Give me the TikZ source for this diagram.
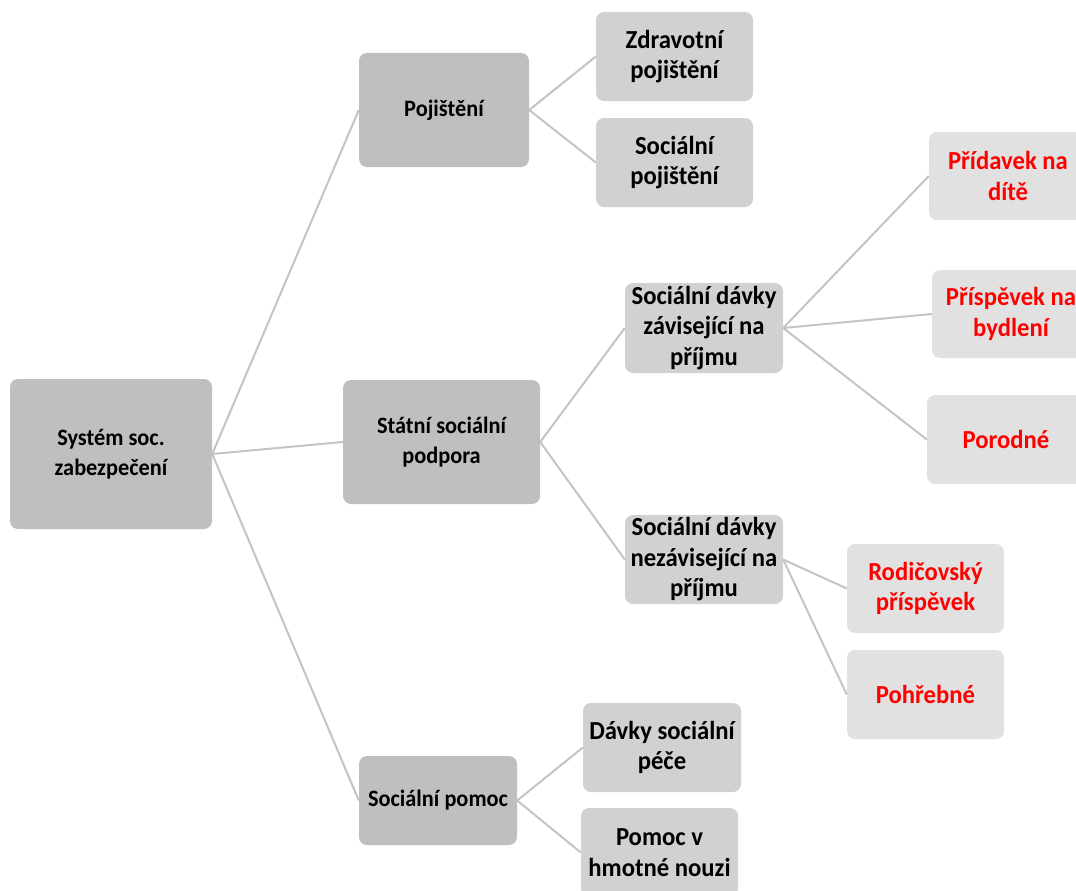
\documentclass[tikz,border=0pt]{standalone}
\usepackage{fontspec}
\setmainfont[FakeStretch=0.95]{Carlito}
\usetikzlibrary{positioning}

\definecolor{boxdark}{RGB}{191,191,191}
\definecolor{boxmid}{RGB}{209,209,209}
\definecolor{boxlight}{RGB}{225,225,225}
\definecolor{linkgray}{RGB}{196,196,196}

\tikzset{
  box/.style={rounded corners=8pt, inner sep=0pt, align=center,
    font=\bfseries\fontsize{26}{30.5}\selectfont},
  rootbox/.style={box, fill=boxdark, font=\bfseries\fontsize{23.5}{29.5}\selectfont},
  midbox/.style={box, fill=boxmid},
  leafbox/.style={box, fill=boxlight, text=red},
  link/.style={draw=linkgray, line width=2pt},
}

\begin{document}
\begin{tikzpicture}[x=1pt, y=-1pt]
        \useasboundingbox (0,0) rectangle (1076,891);
        \clip (0,0) rectangle (1076,891);

        % root and first level
        \node [rootbox, minimum width=202, minimum height=150] (sys) at (111,454) {Systém soc.\\zabezpečení};
        \node [rootbox, minimum width=170, minimum height=114] (poj) at (444,110) {Pojištění};
        \node [rootbox, minimum width=197, minimum height=124] (ssp) at (441.5,442) {Státní sociální\\podpora};
        \node [rootbox, minimum width=158, minimum height=89] (pomoc) at (438,800.5) {Sociální pomoc};

        % second level
        \node [midbox, minimum width=157, minimum height=89] (zdr) at (674.5,56.5) {Zdravotní\\pojištění};
        \node [midbox, minimum width=157, minimum height=89] (socpoj) at (674.5,162.5) {Sociální\\pojištění};
        \node [midbox, minimum width=158, minimum height=90] (zav) at (704,328) {Sociální dávky\\závisející na\\příjmu};
        \node [midbox, minimum width=158, minimum height=89] (nezav) at (704,559.5) {Sociální dávky\\nezávisející na\\příjmu};
        \node [midbox, minimum width=158, minimum height=89] (pece) at (662,747.5) {Dávky sociální\\péče};
        \node [midbox, minimum width=157, minimum height=89] (nouze) at (659.5,852.5) {Pomoc v\\hmotné nouzi};

        % third level
        \node [leafbox, minimum width=158, minimum height=88] (prid) at (1008,176) {Přídavek na\\dítě};
        \node [leafbox, minimum width=158, minimum height=88] (bydl) at (1011,314) {Příspěvek na\\bydlení};
        \node [leafbox, minimum width=158, minimum height=89] (porod) at (1006,439.5) {Porodné};
        \node [leafbox, minimum width=157, minimum height=89] (rodic) at (925.5,588.5) {Rodičovský\\příspěvek};
        \node [leafbox, minimum width=157, minimum height=89] (pohr) at (925.5,694.5) {Pohřebné};

        \draw [link] (sys.east) -- (poj.west);
        \draw [link] (sys.east) -- (ssp.west);
        \draw [link] (sys.east) -- (pomoc.west);
        \draw [link] (poj.east) -- (zdr.west);
        \draw [link] (poj.east) -- (socpoj.west);
        \draw [link] (ssp.east) -- (zav.west);
        \draw [link] (ssp.east) -- (nezav.west);
        \draw [link] (pomoc.east) -- (pece.west);
        \draw [link] (pomoc.east) -- (nouze.west);
        \draw [link] (zav.east) -- (prid.west);
        \draw [link] (zav.east) -- (bydl.west);
        \draw [link] (zav.east) -- (porod.west);
        \draw [link] (nezav.east) -- (rodic.west);
        \draw [link] (nezav.east) -- (pohr.west);
\end{tikzpicture}
\end{document}
